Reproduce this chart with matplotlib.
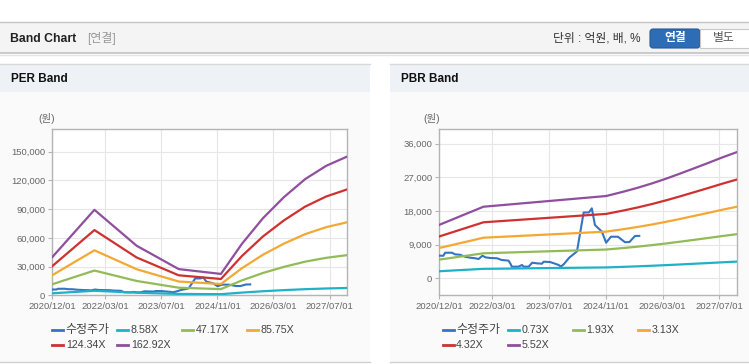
import matplotlib.pyplot as plt
import pandas as pd
from matplotlib.patches import Rectangle, FancyBboxPatch

plt.rcParams['font.family'] = ['Liberation Sans', 'Noto Sans CJK KR', 'DejaVu Sans']

# adjusted share price (수정주가), same series on both charts
price_dates = ['2020-12-01', '2021-01-05', '2021-01-20', '2021-03-20', '2021-04-15',
               '2021-05-28', '2021-07-10', '2021-08-25', '2021-10-05', '2021-11-03',
               '2021-12-06', '2022-01-01', '2022-02-12', '2022-04-10', '2022-05-20',
               '2022-07-18', '2022-08-06', '2022-08-15', '2022-10-12', '2022-11-10',
               '2022-11-25', '2023-01-06', '2023-02-06', '2023-03-18', '2023-05-01',
               '2023-05-15', '2023-07-10', '2023-08-20', '2023-09-20', '2023-10-10',
               '2023-11-03', '2023-12-20', '2024-02-25', '2024-04-22', '2024-06-06',
               '2024-07-01', '2024-07-28', '2024-09-25', '2024-11-01', '2024-12-12',
               '2025-02-10', '2025-04-12', '2025-05-20', '2025-07-06', '2025-08-12']
price_vals = [6040, 6040, 6840, 6840, 6400, 6300, 5770, 5500, 5350, 5160,
              6040, 5600, 5430, 5350, 4900, 4720, 3740, 3110, 3110, 3560,
              3110, 3110, 4170, 4000, 3910, 4440, 4350, 3910, 3560, 3150,
              3740, 5500, 7200, 17600, 17600, 18700, 14250, 12500, 9520, 11120,
              11120, 9650, 9700, 11300, 11350]

# PER band: EPS path and multiples
per_dates = ['2020-12-01', '2021-12-01', '2022-12-01', '2023-12-01', '2024-12-01',
             '2025-06-01', '2025-12-01', '2026-06-01', '2026-12-01', '2027-06-01',
             '2027-12-01']
per_eps = [245, 548, 318, 168, 137, 330, 495, 630, 745, 830, 890]
per_multiples = [8.58, 47.17, 85.75, 124.34, 162.92]

# PBR band: BPS path and multiples
pbr_dates = ['2020-12-01', '2021-12-15', '2024-11-01', '2025-04-01', '2025-08-01',
             '2025-12-01', '2026-04-01', '2026-08-01', '2026-12-01', '2027-04-01',
             '2027-08-01', '2027-12-01']
pbr_bps = [2590, 3467, 3985, 4200, 4390, 4600, 4830, 5080, 5340, 5600, 5870, 6120]
pbr_multiples = [0.73, 1.93, 3.13, 4.32, 5.52]

tick_dates = ['2020-12-01', '2022-03-01', '2023-07-01', '2024-11-01', '2026-03-01', '2027-07-01']
tick_labels = ['2020/12/01', '2022/03/01', '2023/07/01', '2024/11/01', '2026/03/01', '2027/07/01']
per_yticks = [0, 30000, 60000, 90000, 120000, 150000]
pbr_yticks = [0, 9000, 18000, 27000, 36000]

price_color = '#3573c3'
band_colors = ['#1fb2c6', '#92bb58', '#f4a834', '#cf3131', '#8f4f9d']

fig = plt.figure(figsize=(7.49, 3.64), dpi=100)
bg = fig.add_axes([0, 0, 1, 1])
bg.set_xlim(0, 749)
bg.set_ylim(364, 0)
bg.axis('off')

# page header
bg.add_patch(Rectangle((0, 22), 749, 31, fc='#f4f4f4', ec='none'))
bg.plot([0, 749], [22, 22], color='#c4c4c4', lw=1)
bg.plot([0, 749], [53, 53], color='#c2c2c2', lw=1.2)
bg.plot([0, 749], [54.5, 54.5], color='#e4e4e4', lw=1)
bg.text(10, 38.5, 'Band Chart', fontsize=8.8, fontweight='bold', va='center', color='#222222')
bg.text(87, 38.5, '[연결]', fontsize=8.6, va='center', color='#999999')
bg.text(553, 38.5, '단위 : 억원, 배, %', fontsize=8.5, va='center', color='#333333')
bg.add_patch(FancyBboxPatch((650, 29), 50, 19, boxstyle='round,pad=0,rounding_size=3',
                            fc='#2e6db6', ec='#245a9a', lw=0.8))
bg.text(675, 38.5, '연결', fontsize=8.5, fontweight='bold', ha='center', va='center', color='white')
bg.add_patch(Rectangle((700, 29), 52, 19, fc='white', ec='#c8c8c8', lw=0.8))
bg.text(724, 38.5, '별도', fontsize=8.5, ha='center', va='center', color='#555555')

# panels
for x0, x1, title in [(0, 370, 'PER Band'), (390, 749, 'PBR Band')]:
    bg.add_patch(Rectangle((x0, 64), x1 - x0, 28, fc='#eef2f7', ec='none'))
    bg.add_patch(Rectangle((x0, 92), x1 - x0, 270, fc='#fafafa', ec='none'))
    bg.plot([x0, x1], [64, 64], color='#d8d8d8', lw=1)
    bg.plot([x0, x1], [362, 362], color='#d0d0d0', lw=1)
    bg.text(x0 + 11, 79, title, fontsize=8.5, fontweight='bold', va='center', color='#111111')


def draw_chart(rect, base_dates, base_vals, multiples, yticks, ylim, unit_x, legend_x0):
    ax = fig.add_axes(rect)
    ax.set_facecolor('white')
    pdates = pd.to_datetime(price_dates)
    ax.plot(pdates, price_vals, color=price_color, lw=1.5, zorder=3)
    bdates = pd.to_datetime(base_dates)
    for m, c in zip(multiples, band_colors):
        ax.plot(bdates, [v * m for v in base_vals], color=c, lw=1.6, zorder=4)
    ax.set_xlim(pd.Timestamp('2020-12-01'), pd.Timestamp('2027-12-01'))
    ax.set_ylim(*ylim)
    ax.set_xticks(pd.to_datetime(tick_dates))
    ax.set_xticklabels(tick_labels)
    ax.set_yticks(yticks)
    ax.set_yticklabels(['{:,}'.format(v) for v in yticks])
    ax.grid(True, color='#e6e6e6', lw=0.8)
    ax.set_axisbelow(True)
    for s in ax.spines.values():
        s.set_color('#b4b4b4')
        s.set_linewidth(1)
    ax.tick_params(axis='both', labelsize=6.8, colors='#b4b4b4', labelcolor='#666666',
                   length=3, width=0.8, pad=2)
    bg.text(unit_x, 118, '(원)', fontsize=7.5, ha='center', va='center', color='#666666')

    names = ['수정주가'] + ['{:.2f}X'.format(m) for m in multiples]
    colors = [price_color] + band_colors
    for i, (n, c) in enumerate(zip(names, colors)):
        col, row = i % 4, i // 4
        lx = legend_x0 + col * 65
        ly = 330 + row * 14.5
        bg.plot([lx, lx + 11], [ly, ly], color=c, lw=2)
        bg.text(lx + 13.5, ly, n, fontsize=8.6 if i == 0 else 7.7, va='center',
                color='#444444')
    return ax


draw_chart([52.3 / 749, 1 - 295.3 / 364, 295 / 749, 166.6 / 364],
           per_dates, per_eps, per_multiples, per_yticks, (0, 174000), 46.7, 52.3)
draw_chart([439.3 / 749, 1 - 295.3 / 364, 298 / 749, 166.6 / 364],
           pbr_dates, pbr_bps, pbr_multiples, pbr_yticks, (-4545, 40000), 431.7, 442.7)

fig.savefig('out.png', dpi=100)
